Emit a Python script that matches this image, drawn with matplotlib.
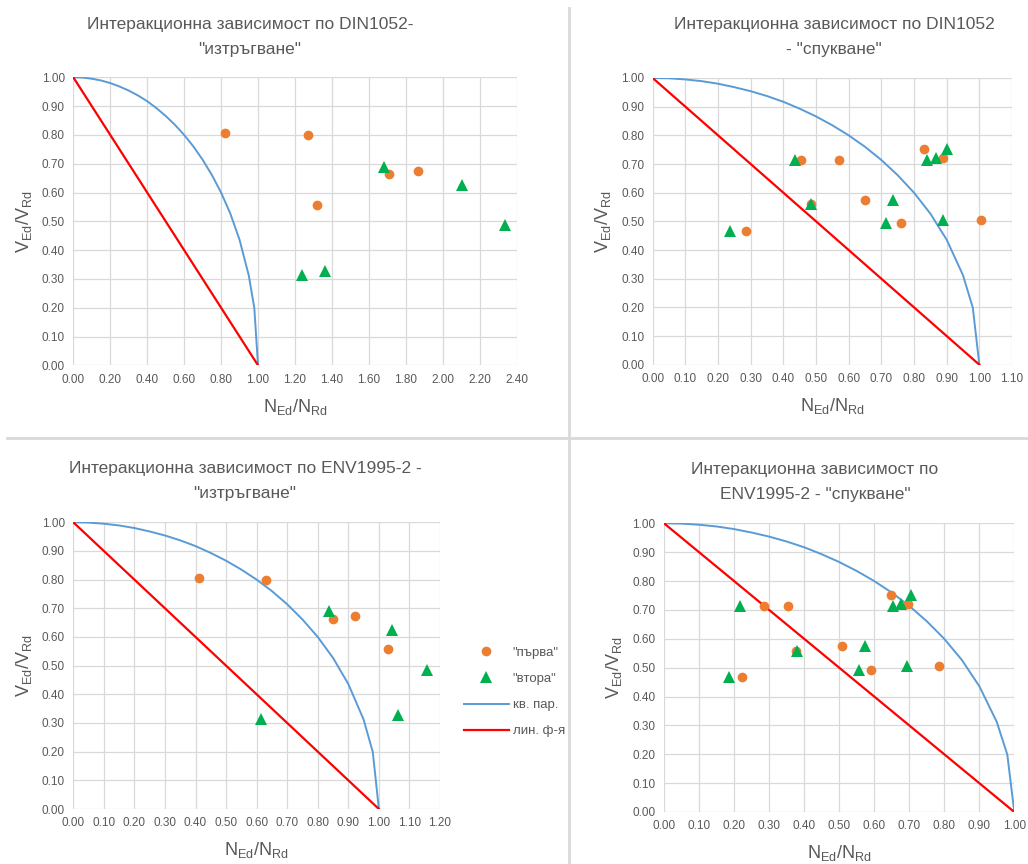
import matplotlib
matplotlib.use('Agg')
import matplotlib.pyplot as plt
from matplotlib.lines import Line2D

plt.rcParams['font.family'] = ['Liberation Sans', 'DejaVu Sans']

# "кв. пар." curve and "лин. ф-я" line
curve_x = [0, 0.05, 0.1, 0.15, 0.2, 0.25, 0.3, 0.35, 0.4, 0.45, 0.5, 0.55,
           0.6, 0.65, 0.7, 0.75, 0.8, 0.85, 0.9, 0.95, 0.98, 1.0]
curve_y = [1.000, 0.999, 0.995, 0.989, 0.980, 0.968, 0.954, 0.937, 0.917, 0.893, 0.866, 0.835,
           0.800, 0.760, 0.714, 0.661, 0.600, 0.527, 0.436, 0.312, 0.199, 0.000]
lin_x = [0, 1]
lin_y = [1, 0]

# DIN1052 - "изтръгване"
din_izt_p_x = [0.82, 1.27, 1.71, 1.865, 1.32]
din_izt_p_y = [0.806, 0.800, 0.663, 0.674, 0.558]
din_izt_v_x = [1.68, 2.105, 2.335, 1.24, 1.36]
din_izt_v_y = [0.69, 0.626, 0.486, 0.315, 0.328]

# DIN1052 - "спукване"
din_sp_p_x = [0.455, 0.571, 0.830, 0.890, 0.485, 0.650, 0.761, 1.005, 0.285]
din_sp_p_y = [0.715, 0.715, 0.751, 0.720, 0.559, 0.574, 0.493, 0.505, 0.466]
din_sp_v_x = [0.436, 0.486, 0.237, 0.901, 0.839, 0.867, 0.735, 0.714, 0.890]
din_sp_v_y = [0.714, 0.559, 0.466, 0.751, 0.714, 0.720, 0.574, 0.493, 0.505]

# ENV1995-2 - "изтръгване"
env_izt_p_x = [0.41, 0.632, 0.850, 0.923, 1.03]
env_izt_p_y = [0.806, 0.800, 0.663, 0.674, 0.558]
env_izt_v_x = [0.836, 1.044, 1.158, 0.614, 1.063]
env_izt_v_y = [0.69, 0.626, 0.486, 0.315, 0.328]

# ENV1995-2 - "спукване"
env_sp_p_x = [0.647, 0.285, 0.354, 0.696, 0.377, 0.507, 0.592, 0.784, 0.224]
env_sp_p_y = [0.751, 0.715, 0.715, 0.720, 0.559, 0.574, 0.493, 0.505, 0.466]
env_sp_v_x = [0.704, 0.216, 0.380, 0.653, 0.676, 0.575, 0.556, 0.695, 0.186]
env_sp_v_y = [0.751, 0.714, 0.559, 0.714, 0.720, 0.574, 0.493, 0.505, 0.466]

legend_labels = ['"първа"', '"втора"', 'кв. пар.', 'лин. ф-я']

ORANGE = '#ED7D31'
GREEN = '#00B050'
BLUE = '#5B9BD5'
RED = '#FF0000'
GRAY = '#595959'
GRID = '#D9D9D9'

W, H = 1028, 864
fig = plt.figure(figsize=(W / 100, H / 100), dpi=100)


def box(x0, x1, ytop, ybot):
    return [x0 / W, 1 - ybot / H, (x1 - x0) / W, (ybot - ytop) / H]


def panel(rect, px, py, vx, vy, xmax, xstep):
    ax = fig.add_axes(rect)
    ax.plot(px, py, 'o', color=ORANGE, markersize=7, markeredgewidth=0, zorder=4)
    ax.plot(vx, vy, '^', color=GREEN, markersize=8, markeredgewidth=0, zorder=4)
    ax.plot(curve_x, curve_y, color=BLUE, lw=1.4, zorder=3)
    ax.plot(lin_x, lin_y, color=RED, lw=1.6, zorder=3)
    ax.set_xlim(0, xmax)
    ax.set_ylim(0, 1)
    n = int(round(xmax / xstep))
    ax.set_xticks([i * xstep for i in range(n + 1)])
    ax.set_yticks([i * 0.1 for i in range(11)])
    ax.xaxis.set_major_formatter(matplotlib.ticker.FormatStrFormatter('%.2f'))
    ax.yaxis.set_major_formatter(matplotlib.ticker.FormatStrFormatter('%.2f'))
    ax.grid(True, color=GRID, lw=0.9)
    ax.set_axisbelow(True)
    for s in ax.spines.values():
        s.set_visible(False)
    ax.tick_params(length=0, labelsize=8.5, colors=GRAY, pad=6)
    ax.set_xlabel(r'N$_{\mathregular{Ed}}$/N$_{\mathregular{Rd}}$', fontsize=13, color=GRAY, labelpad=8)
    ax.set_ylabel(r'V$_{\mathregular{Ed}}$/V$_{\mathregular{Rd}}$', fontsize=13, color=GRAY, labelpad=6)
    return ax


ax1 = panel(box(73.3, 516.6, 77.3, 365.3), din_izt_p_x, din_izt_p_y, din_izt_v_x, din_izt_v_y, 2.4, 0.2)
ax2 = panel(box(652.7, 1012, 78, 364.7), din_sp_p_x, din_sp_p_y, din_sp_v_x, din_sp_v_y, 1.1, 0.1)
ax3 = panel(box(73.3, 440, 522.3, 809), env_izt_p_x, env_izt_p_y, env_izt_v_x, env_izt_v_y, 1.2, 0.1)
ax4 = panel(box(664, 1014.3, 523.3, 812), env_sp_p_x, env_sp_p_y, env_sp_v_x, env_sp_v_y, 1.0, 0.1)

tkw = dict(ha='center', va='center', fontsize=12.5, color=GRAY, linespacing=1.85)
fig.text(250 / W, 1 - 37 / H, 'Интеракционна зависимост по DIN1052-\n"изтръгване"', **tkw)
fig.text(834 / W, 1 - 37 / H, 'Интеракционна зависимост по DIN1052\n- "спукване"', **tkw)
fig.text(245 / W, 1 - 481 / H, 'Интеракционна зависимост по ENV1995-2 -\n"изтръгване"', **tkw)
fig.text(815 / W, 1 - 482 / H, 'Интеракционна зависимост по\nENV1995-2 - "спукване"', **tkw)

# separators between panels
fig.add_artist(Line2D([569 / W, 569 / W], [0, 1 - 8 / H], color=GRID, lw=2))
fig.add_artist(Line2D([7 / W, 1], [1 - 438 / H, 1 - 438 / H], color=GRID, lw=2))

handles = [
    Line2D([], [], ls='none', marker='o', color=ORANGE, markersize=7, markeredgewidth=0),
    Line2D([], [], ls='none', marker='^', color=GREEN, markersize=8, markeredgewidth=0),
    Line2D([], [], color=BLUE, lw=1.4),
    Line2D([], [], color=RED, lw=1.6),
]
leg = fig.legend(handles, legend_labels, loc='center left', bbox_to_anchor=(452 / W, 1 - 692 / H),
                 frameon=False, fontsize=9.5, handlelength=3.4, labelspacing=1.05, handletextpad=0.3)
for t in leg.get_texts():
    t.set_color(GRAY)

fig.savefig('out.png', dpi=100)
